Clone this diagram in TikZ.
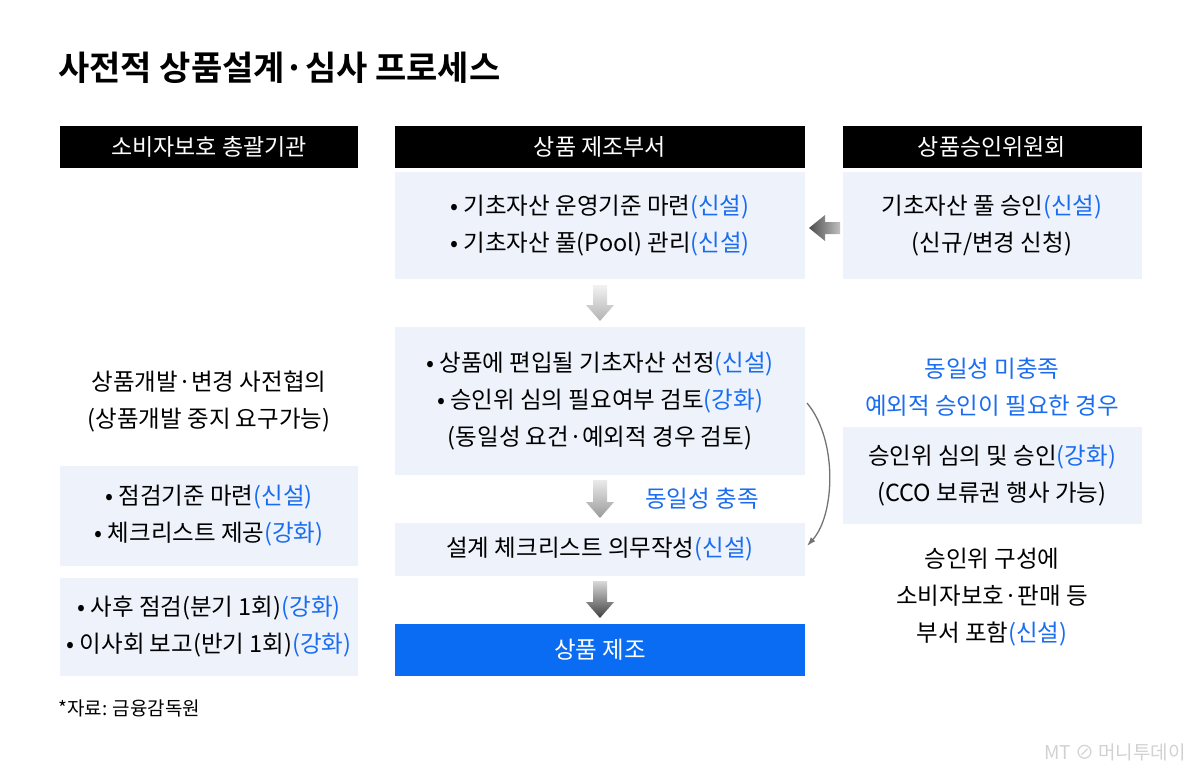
\documentclass[tikz,border=0pt]{standalone}
\usepackage{fontspec}
\usetikzlibrary{arrows.meta}
\setmainfont{Noto Sans CJK KR}
\newfontfamily\krb{Noto Sans CJK KR Bold}
\begin{document}
\definecolor{pale}{HTML}{EEF3FB}
\definecolor{bl}{HTML}{1A6DF0}
\definecolor{bbox}{HTML}{0A6CF2}
\newcommand{\bt}[1]{\textcolor{bl}{#1}}
\begin{tikzpicture}[x=1pt,y=-1pt,
 hdr/.style={fill=black,text=white,font=\fontsize{23}{26}\selectfont,inner sep=0},
 txt/.style={font=\fontsize{23.5}{37}\selectfont,align=center,inner sep=0},
]
\useasboundingbox (0,0) rectangle (1200,782);
\node[anchor=west,font=\krb\fontsize{34}{38}\selectfont,inner sep=0] (title) at (58,68) {사전적 상품설계·심사 프로세스};
% headers
\fill (60,126) rectangle (358,168); \node[hdr] (h1) at (209,147) {소비자보호 총괄기관};
\fill (395,126) rectangle (805,168); \node[hdr] (h2) at (600,147) {상품 제조부서};
\fill (843,126) rectangle (1142,168); \node[hdr] (h3) at (992,147) {상품승인위원회};
% boxes
\fill[pale] (395,172) rectangle (805,279);
\fill[pale] (843,172) rectangle (1142,279);
\fill[pale] (395,327) rectangle (805,475);
\fill[pale] (395,523) rectangle (805,576);
\fill[bbox] (395,624) rectangle (805,676);
\fill[pale] (60,466) rectangle (358,566);
\fill[pale] (60,578) rectangle (358,676);
\fill[pale] (843,427) rectangle (1142,524);
% texts
\node[txt] (m1) at (600,226) {• 기초자산 운영기준 마련\bt{(신설)}\\• 기초자산 풀(Pool) 관리\bt{(신설)}};
\node[txt] (r1) at (992,226) {기초자산 풀 승인\bt{(신설)}\\(신규/변경 신청)};
\node[txt] (m2) at (600,401) {• 상품에 편입될 기초자산 선정\bt{(신설)}\\• 승인위 심의 필요여부 검토\bt{(강화)}\\(동일성 요건·예외적 경우 검토)};
\node[txt] (m3) at (600,549) {설계 체크리스트 의무작성\bt{(신설)}};
\node[txt,text=white] (m4) at (600,650) {상품 제조};
\node[txt,text=bl] (eq) at (702,499) {동일성 충족};
\node[txt] (l1) at (209,401) {상품개발·변경 사전협의\\(상품개발 중지 요구가능)};
\node[txt] (l2) at (209,516) {• 점검기준 마련\bt{(신설)}\\• 체크리스트 제공\bt{(강화)}};
\node[txt] (l3) at (209,627) {• 사후 점검(분기 1회)\bt{(강화)}\\• 이사회 보고(반기 1회)\bt{(강화)}};
\node[txt,text=bl] (r2) at (992,387) {동일성 미충족\\예외적 승인이 필요한 경우};
\node[txt] (r3) at (992,476) {승인위 심의 및 승인\bt{(강화)}\\(CCO 보류권 행사 가능)};
\node[txt] (r4) at (992,597) {승인위 구성에\\소비자보호·판매 등\\부서 포함\bt{(신설)}};
\node[anchor=west,font=\fontsize{19}{20}\selectfont,inner sep=0] (src) at (58,708) {*자료: 금융감독원};
\node[anchor=east,text=black!18,font=\fontsize{19}{20}\selectfont,inner sep=0] (wm) at (1186,752) {\textit{MT} ⊘ 머니투데이};
% arrows
\shade[top color=black!5,bottom color=black!30] (593,285)--(607,285)--(607,305)--(614,305)--(600,321)--(586,305)--(593,305)--cycle;
\shade[top color=black!8,bottom color=black!40] (593,480)--(607,480)--(607,502)--(614,502)--(600,518)--(586,502)--(593,502)--cycle;
\shade[top color=black!15,bottom color=black!75] (593,581)--(607,581)--(607,602)--(614,602)--(600,618)--(586,602)--(593,602)--cycle;
\shade[left color=black!70,right color=black!25] (840,222)--(825,222)--(825,215)--(809,228)--(825,241)--(825,234)--(840,234)--cycle;
\coordinate (cs) at (807,403); \coordinate (ce) at (807,546);
\draw[black!55,line width=1.3pt,-{Latex[length=9pt,width=6pt]}] (cs) .. controls (838,440) and (835,515) .. (ce);
\end{tikzpicture}
\end{document}
